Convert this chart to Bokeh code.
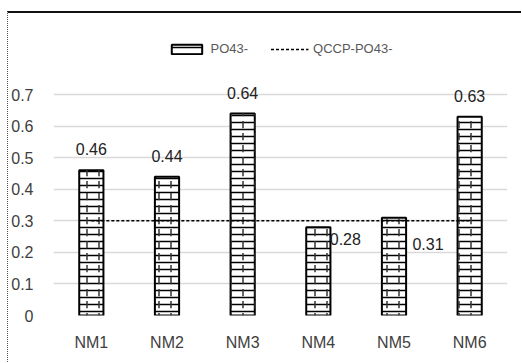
from bokeh.plotting import figure
from bokeh.models import ColumnDataSource, LabelSet, Legend, LegendItem, FixedTicker, Range1d
from bokeh.core.properties import value
from bokeh.embed import file_html
from bokeh.resources import INLINE

categories = ["NM1", "NM2", "NM3", "NM4", "NM5", "NM6"]
po43 = [0.46, 0.44, 0.64, 0.28, 0.31, 0.63]
qccp = [0.3, 0.3, 0.3, 0.3, 0.3, 0.3]
labels = ["0.46", "0.44", "0.64", "0.28", "0.31", "0.63"]
y_ticks = [0, 0.1, 0.2, 0.3, 0.4, 0.5, 0.6, 0.7]

FONT = "'Liberation Sans Narrow', 'Liberation Sans', sans-serif"

# label placement: above bar, except NM4/NM5 (near the dashed line) placed at right
x_off = [0, 0, 0, 27, 34, 0]
y_off = [21, 21, 21, -12, -26, 21]

src = ColumnDataSource(dict(cat=categories, v=po43, q=qccp, lab=labels,
                            xo=x_off, yo=y_off))

p = figure(x_range=categories, y_range=Range1d(0, 0.9), width=514, height=351,
           output_backend="svg", toolbar_location=None,
           min_border_left=44, min_border_right=15, min_border_bottom=49, min_border_top=18)
p.styles = {"margin-top": "11px", "margin-left": "7px",
            "border-top": "2px solid #111", "border-left": "1px dotted #555"}

bars = p.vbar(x="cat", top="v", width=0.32, source=src, fill_color="white",
              line_color="black", line_width=2,
              hatch_pattern="horizontal_line", hatch_scale=7, hatch_color="black",
              hatch_weight=1.5)
p.vbar(x="cat", top="v", width=0.32, source=src, fill_alpha=0, line_alpha=0,
       hatch_pattern="vertical_dash", hatch_scale=12, hatch_color="#333", hatch_weight=1.5)
line = p.line(x="cat", y="q", source=src, line_color="black", line_width=1.5, line_dash="3 2")

lbl = LabelSet(x="cat", y="v", text="lab", source=src, x_offset="xo", y_offset="yo",
               text_align="center", text_baseline="middle", text_font_size="16px",
               text_font=value(FONT), text_color="#222")
p.add_layout(lbl)

legend = Legend(items=[LegendItem(label="PO43-", renderers=[bars]),
                       LegendItem(label="QCCP-PO43-", renderers=[line])],
                orientation="horizontal", location="top_center",
                label_text_font=FONT, label_text_font_size="13px",
                label_text_color="#595959", glyph_width=38, glyph_height=12,
                spacing=22, border_line_alpha=0, background_fill_alpha=0,
                margin=10, padding=0)
p.add_layout(legend)

p.yaxis.ticker = FixedTicker(ticks=y_ticks)
p.yaxis.major_label_overrides = {0: "0"}
for ax in (p.xaxis, p.yaxis):
    ax.axis_line_color = None
    ax.major_tick_line_color = None
    ax.minor_tick_line_color = None
    ax.major_label_text_font = FONT
    ax.major_label_text_font_size = "16px"
    ax.major_label_text_color = "#404040"
p.xaxis.major_label_standoff = 12
p.yaxis.major_label_standoff = 14
p.xgrid.grid_line_color = None
p.ygrid.grid_line_color = "#d9d9d9"
p.ygrid.grid_line_width = 1.5
p.outline_line_color = None
p.x_range.range_padding = 0

open("out.html", "w").write(file_html(p, INLINE))
